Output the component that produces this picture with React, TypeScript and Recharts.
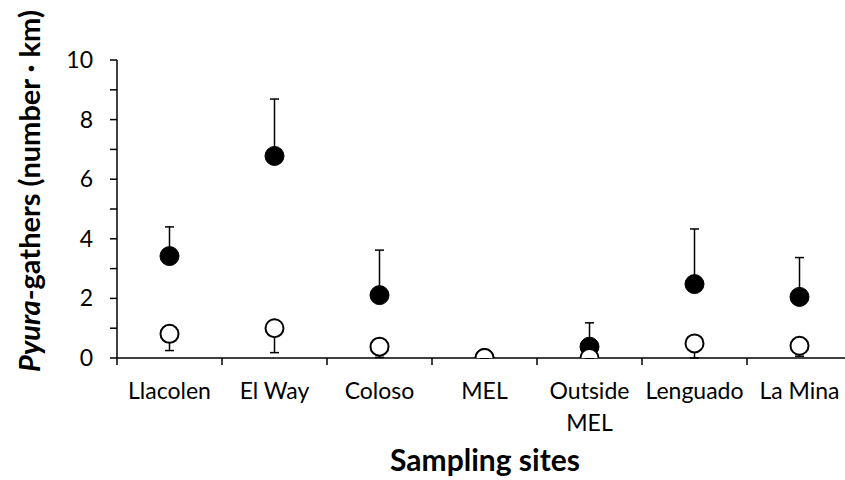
import React from 'react';
import { ComposedChart, Line, XAxis, YAxis, ErrorBar, Label } from 'recharts';

const sites = ['Llacolen', 'El Way', 'Coloso', 'MEL', 'Outside MEL', 'Lenguado', 'La Mina'];
const filledMean = [3.42, 6.78, 2.11, 0, 0.38, 2.48, 2.05];
const filledUpper = [0.98, 1.91, 1.51, 0, 0.8, 1.85, 1.32];
const openMean = [0.81, 1.0, 0.38, 0, 0, 0.49, 0.41];
const openLower = [0.56, 0.82, 0.36, 0, 0, 0.49, 0.35];
const yTicks = [0, 1, 2, 3, 4, 5, 6, 7, 8, 9, 10];

const data = sites.map((site, i) => ({
  site,
  filled: filledMean[i],
  filledErr: [0, filledUpper[i]],
  open: openMean[i],
  openErr: [openLower[i], 0],
}));

const FONT = 'Lato, "Open Sans", sans-serif';
const CHART_W = 860;
const LEFT = 117;
const RIGHT = 8;
const BAND = (CHART_W - LEFT - RIGHT) / sites.length;

const XTick = (props: any) => {
  const { x, y, payload } = props;
  const label: string = payload.value;
  const lines = label.length > 9 && label.includes(' ') ? label.split(' ') : [label];
  return (
    <g>
      <line x1={x - BAND / 2} x2={x - BAND / 2} y1={y} y2={y + 7} stroke="#000" strokeWidth={1.5} />
      <text x={x} y={y + 41} textAnchor="middle" fontFamily={FONT} fontSize={23} fill="#000">
        {lines.map((l, i) => (
          <tspan key={i} x={x} dy={i === 0 ? 0 : 32}>
            {l}
          </tspan>
        ))}
      </text>
    </g>
  );
};

const YTick = (props: any) => {
  const { x, y, payload } = props;
  if (payload.value % 2 !== 0) return <g />;
  return (
    <text x={x} y={y} dy={8} textAnchor="end" fontFamily={FONT} fontSize={23} fill="#000">
      {payload.value}
    </text>
  );
};

const YTitle = () => (
  <text
    transform="translate(28, 191) rotate(-90)"
    textAnchor="middle"
    dominantBaseline="central"
    fontFamily={FONT}
    fontSize={29}
    fontWeight="bold"
    fill="#000"
  >
    <tspan fontStyle="italic">Pyura</tspan>
    <tspan>-gathers (number · km)</tspan>
  </text>
);

const XTitle = () => (
  <text x={485} y={471} textAnchor="middle" fontFamily={FONT} fontSize={30} fontWeight="bold" fill="#000">
    Sampling sites
  </text>
);

export default function App() {
  return (
    <div
      style={{
        position: 'absolute',
        left: 0,
        top: 0,
        width: 845,
        height: 480,
        overflow: 'hidden',
        background: '#fff',
      }}
    >
      <ComposedChart
        width={CHART_W}
        height={480}
        data={data}
        margin={{ top: 60, right: RIGHT, bottom: 0, left: 0 }}
      >
        <XAxis
          dataKey="site"
          height={122}
          interval={0}
          padding={{ left: BAND / 2, right: BAND / 2 }}
          tickLine={false}
          tickSize={0}
          tickMargin={0}
          axisLine={{ stroke: '#000', strokeWidth: 1.5 }}
          tick={<XTick />}
        >
          <Label content={<XTitle />} />
        </XAxis>
        <YAxis
          width={LEFT}
          domain={[0, 10]}
          ticks={yTicks}
          interval={0}
          allowDataOverflow
          tickSize={7}
          tickMargin={17}
          tickLine={{ stroke: '#000', strokeWidth: 1.5 }}
          axisLine={{ stroke: '#000', strokeWidth: 1.5 }}
          tick={<YTick />}
        >
          <Label content={<YTitle />} />
        </YAxis>
        <Line
          dataKey="filled"
          stroke="none"
          isAnimationActive={false}
          dot={{ r: 9.5, fill: '#000', stroke: '#000', strokeWidth: 1 }}
          activeDot={false}
        >
          <ErrorBar dataKey="filledErr" direction="y" width={4.5} stroke="#000" strokeWidth={1.5} />
        </Line>
        <Line
          dataKey="open"
          stroke="none"
          isAnimationActive={false}
          dot={{ r: 9, fill: '#fff', stroke: '#000', strokeWidth: 2 }}
          activeDot={false}
        >
          <ErrorBar dataKey="openErr" direction="y" width={4.5} stroke="#000" strokeWidth={1.5} />
        </Line>
      </ComposedChart>
    </div>
  );
}
